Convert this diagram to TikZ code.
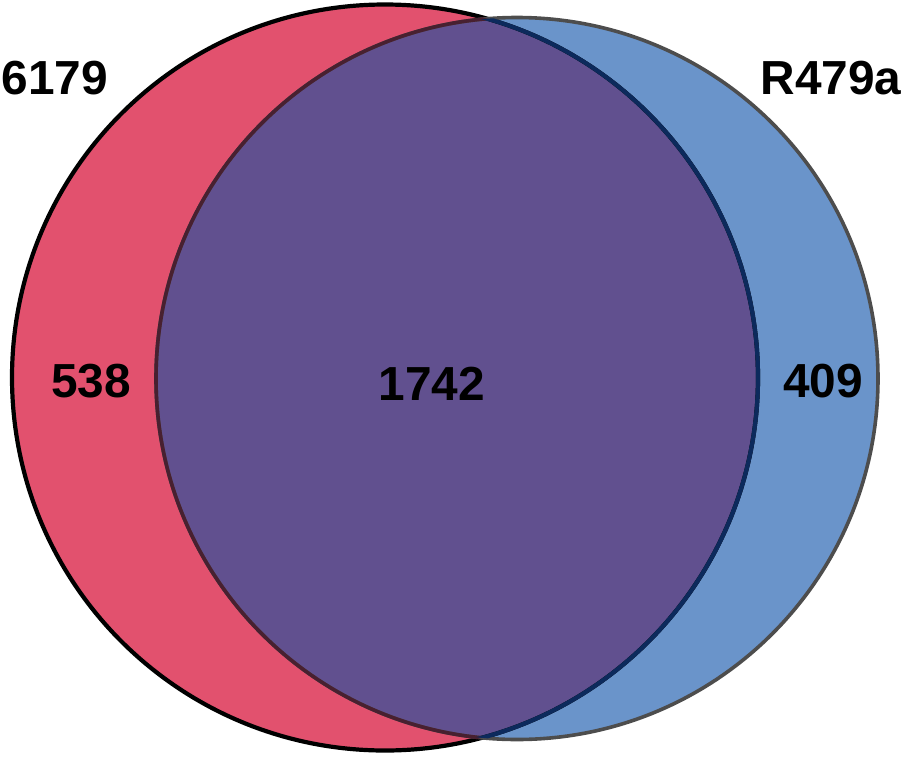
\documentclass[tikz,border=0pt]{standalone}
\usepackage{fontspec}
\setmainfont{Liberation Sans}
\definecolor{setred}{RGB}{226,81,110}
\definecolor{setblue}{RGB}{106,148,202}
\definecolor{setboth}{RGB}{97,80,143}
\definecolor{rimgray}{RGB}{77,77,77}
\definecolor{rimnavy}{RGB}{12,42,92}
\definecolor{rimdark}{RGB}{72,32,48}
\tikzset{lbl/.style={font=\bfseries\fontsize{13.6}{16}\selectfont, inner sep=0pt}}
\begin{document}
\begin{tikzpicture}
\useasboundingbox (0,0) rectangle (9.06,7.58);
\coordinate (cA) at (3.85,3.805);
\coordinate (cB) at (5.17,3.795);
% sets
\fill[setred] (cA) circle (3.73);
\fill[setblue] (cB) circle (3.61);
\begin{scope}
\clip (cA) circle (3.73);
\fill[setboth] (cB) circle (3.61);
\end{scope}
% rims
\draw[line width=0.042cm] (cA) circle (3.73);
\draw[line width=0.036cm, rimgray] (cB) circle (3.61);
\begin{scope}
\clip (cA) circle (3.73);
\draw[line width=0.036cm, rimdark] (cB) circle (3.61);
\end{scope}
\begin{scope}
\clip (cB) circle (3.61);
\draw[line width=0.042cm, rimnavy] (cA) circle (3.73);
\end{scope}
% labels
\node[lbl] (nameA) at (0.55,6.80) {6179};
\node[lbl] (nameB) at (8.31,6.80) {R479a};
\node[lbl] (onlyA) at (0.91,3.77) {538};
\node[lbl] (both) at (4.32,3.74) {1742};
\node[lbl] (onlyB) at (8.23,3.77) {409};
\end{tikzpicture}
\end{document}
